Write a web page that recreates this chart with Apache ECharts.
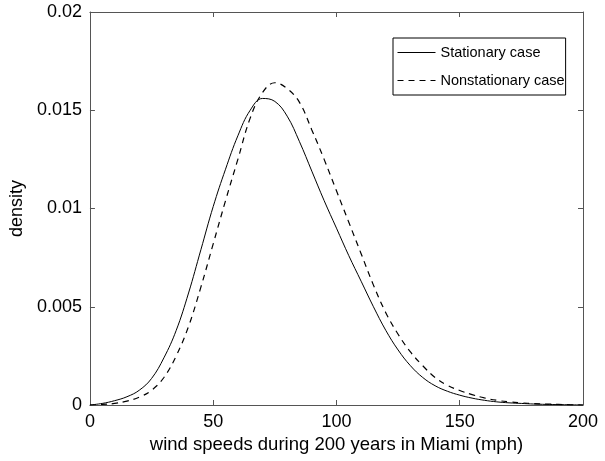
<!DOCTYPE html>
<html>
<head>
<meta charset="utf-8">
<script src="https://cdn.jsdelivr.net/npm/echarts@6/dist/echarts.min.js"></script>
<style>html,body{margin:0;padding:0;background:#fff}#c{width:605px;height:461px}</style>
</head>
<body>
<div id="c"></div>
<script>
const windSpeeds = [0,5,10,15,20,25,30,35,40,45,50,55,60,65,70,75,80,85,90,95,100,105,110,115,120,125,130,135,140,145,150,155,160,165,170,175,180,185,190,195,200];
const stationary = [0,0.00008,0.00022,0.00042,0.00075,0.00135,0.0024,0.0038,0.0057,0.0079,0.0101,0.0120,0.0137,0.0150,0.0156,0.01545,0.0147,0.0134,0.0119,0.0104,0.0090,0.0076,0.0063,0.0050,0.0038,0.0028,0.0020,0.0014,0.00098,0.00070,0.00050,0.00035,0.00024,0.00016,0.00011,0.00008,0.00005,0.00003,0.00002,0.00001,0];
const nonstationary = [0,0.00003,0.00008,0.0002,0.0004,0.00075,0.0014,0.0025,0.0040,0.0060,0.0082,0.0104,0.0125,0.0146,0.0159,0.0164,0.0161,0.0154,0.0140,0.0125,0.0109,0.0093,0.0077,0.0061,0.0047,0.0036,0.0027,0.0020,0.0014,0.0010,0.00074,0.00053,0.00036,0.00024,0.00016,0.00011,0.00007,0.00005,0.00003,0.00001,0];
const seriesNames = ['Stationary case','Nonstationary case'];
const xTitle = 'wind speeds during 200 years in Miami (mph)';
const yTitle = 'density';

const font = 'Liberation Sans, Arial, Helvetica, sans-serif';
const axisCol = '#555';
const pairs = arr => windSpeeds.map((x,i)=>[x,arr[i]]);
const chart = echarts.init(document.getElementById('c'), null, {renderer:'canvas'});
const baseX = {type:'value',min:0,max:200,interval:50,splitLine:{show:false},
  axisLine:{show:true,onZero:false,lineStyle:{color:axisCol,width:1}},
  axisTick:{show:true,inside:true,length:5,lineStyle:{color:axisCol}}};
const baseY = {type:'value',min:0,max:0.02,interval:0.005,splitLine:{show:false},
  axisLine:{show:true,onZero:false,lineStyle:{color:axisCol,width:1}},
  axisTick:{show:true,inside:true,length:5,lineStyle:{color:axisCol}}};
chart.setOption({
  animation:false,
  backgroundColor:'#fff',
  grid:{left:88,right:22,top:12,bottom:56,containLabel:false},
  legend:{
    orient:'vertical',left:393,top:38,
    data:seriesNames,
    borderColor:'#000',borderWidth:1,padding:[7,1,7,4],
    itemWidth:38,itemHeight:14,itemGap:13,itemTextGap:3,
    itemStyle:{opacity:0},
    lineStyle:{width:1},
    textStyle:{fontFamily:font,fontSize:14.5,color:'#000'}
  },
  xAxis:[
    Object.assign({},baseX,{position:'bottom',name:xTitle,nameLocation:'middle',nameGap:30,
      nameTextStyle:{fontFamily:font,fontSize:18.5,color:'#000'},
      axisLabel:{fontFamily:font,fontSize:18,color:'#000',margin:8}}),
    Object.assign({},baseX,{position:'top',axisLabel:{show:false}})
  ],
  yAxis:[
    Object.assign({},baseY,{position:'left',name:yTitle,nameLocation:'middle',nameGap:62,
      nameTextStyle:{fontFamily:font,fontSize:18,color:'#000'},
      axisLabel:{fontFamily:font,fontSize:18,color:'#000',margin:8,
        formatter:v=>String(parseFloat(v.toFixed(4)))}}),
    Object.assign({},baseY,{position:'right',axisLabel:{show:false}})
  ],
  series:[
    {name:seriesNames[0],type:'line',data:pairs(stationary),showSymbol:false,symbol:'none',smooth:0.4,
      lineStyle:{color:'#000',width:1,type:'solid'},itemStyle:{color:'#000'}},
    {name:seriesNames[1],type:'line',data:pairs(nonstationary),showSymbol:false,symbol:'none',smooth:0.4,
      lineStyle:{color:'#000',width:1.2,type:[6,5]},itemStyle:{color:'#000'}}
  ]
});
</script>
</body>
</html>
